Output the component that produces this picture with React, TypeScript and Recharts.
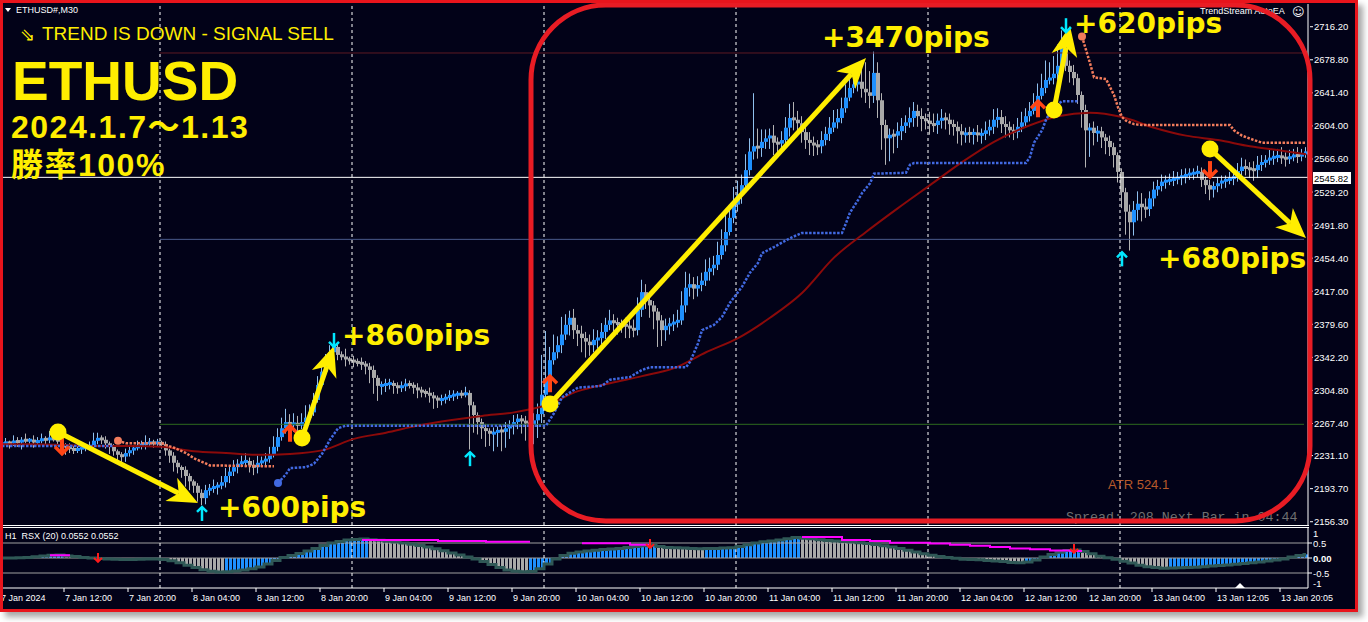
import React from 'react';
import { Bar, ComposedChart, Line, ReferenceDot, ReferenceLine, XAxis, YAxis } from 'recharts';

const YELLOW = '#ffee00';
const BG = '#020218';
const AXIS_FONT = '"Liberation Sans", Arial, sans-serif';

// ETHUSD M30 closes, one per bar from 7 Jan 04:00 (open = previous close)
const firstOpen = 2244;
const closes = [
  2245, 2246, 2245, 2248, 2246, 2249, 2248, 2249, 2246, 2248,
  2250, 2249, 2251, 2249, 2248, 2243, 2241, 2239, 2237, 2239,
  2240, 2240, 2242, 2248, 2251, 2249, 2245, 2241, 2236, 2232,
  2230, 2234, 2237, 2240, 2242, 2244, 2245, 2246, 2245, 2246,
  2244, 2237, 2231, 2223, 2218, 2215, 2208, 2202, 2197, 2189,
  2183, 2192, 2194, 2196, 2197, 2201, 2208, 2213, 2218, 2222,
  2224, 2225, 2220, 2218, 2223, 2225, 2227, 2232, 2241, 2252,
  2262, 2269, 2266, 2268, 2265, 2269, 2274, 2280, 2294, 2311,
  2326, 2337, 2348, 2354, 2345, 2343, 2340, 2339, 2337, 2336,
  2335, 2332, 2328, 2319, 2310, 2311, 2312, 2313, 2310, 2308,
  2310, 2312, 2311, 2308, 2305, 2303, 2302, 2299, 2296, 2294,
  2295, 2297, 2299, 2300, 2301, 2300, 2302, 2288, 2277, 2269,
  2262, 2259, 2256, 2257, 2260, 2258, 2262, 2265, 2269, 2273,
  2270, 2268, 2266, 2271, 2278, 2300, 2317, 2339, 2348, 2356,
  2368, 2379, 2387, 2373, 2369, 2364, 2360, 2356, 2362, 2364,
  2371, 2379, 2384, 2381, 2380, 2379, 2378, 2375, 2373, 2396,
  2416, 2407, 2401, 2394, 2384, 2373, 2378, 2380, 2382, 2384,
  2401, 2421, 2425, 2420, 2424, 2429, 2439, 2443, 2447, 2458,
  2469, 2484, 2500, 2515, 2526, 2537, 2554, 2575, 2581, 2579,
  2586, 2590, 2593, 2585, 2584, 2588, 2602, 2613, 2611, 2607,
  2597, 2588, 2585, 2582, 2581, 2588, 2595, 2602, 2608, 2613,
  2624, 2636, 2647, 2651, 2654, 2646, 2642, 2638, 2664, 2633,
  2605, 2590, 2594, 2593, 2598, 2604, 2608, 2613, 2621, 2615,
  2612, 2610, 2606, 2605, 2610, 2613, 2611, 2606, 2603, 2598,
  2594, 2596, 2595, 2596, 2594, 2595, 2599, 2603, 2611, 2614,
  2606, 2603, 2599, 2597, 2603, 2608, 2615, 2621, 2629, 2638,
  2647, 2656, 2658, 2663, 2672, 2692, 2672, 2665, 2658, 2639,
  2622, 2599, 2602, 2596, 2598, 2591, 2587, 2580, 2571, 2552,
  2529, 2507, 2495, 2509, 2516, 2512, 2510, 2522, 2532, 2536,
  2541, 2542, 2543, 2544, 2546, 2547, 2549, 2550, 2551, 2552,
  2543, 2537, 2532, 2536, 2539, 2542, 2543, 2544, 2547, 2553,
  2558, 2556, 2555, 2554, 2560, 2563, 2565, 2568, 2569, 2570,
  2568, 2567, 2569, 2571, 2570, 2572, 2575,
];

// wick above body top / below body bottom, in price units
const wickUp = [
  3, 5, 2, 6, 4, 3, 7, 2, 5, 4,
  6, 3, 8, 4, 3, 5, 2, 4, 3, 6,
  4, 3, 5, 9, 6, 3, 4, 2, 3, 2,
  3, 5, 4, 3, 6, 4, 9, 5, 3, 4,
  2, 3, 2, 4, 3, 2, 4, 3, 2, 3,
  4, 6, 5, 8, 4, 7, 9, 6, 8, 5,
  7, 9, 4, 6, 8, 5, 7, 9, 12, 10,
  12, 15, 9, 11, 8, 10, 14, 9, 8, 10,
  7, 9, 8, 6, 5, 4, 9, 3, 5, 4,
  6, 3, 4, 5, 3, 4, 6, 5, 3, 4,
  5, 6, 4, 3, 5, 4, 3, 6, 4, 3,
  5, 4, 6, 5, 3, 4, 7, 3, 4, 3,
  4, 5, 3, 6, 4, 5, 7, 6, 8, 5,
  4, 6, 5, 8, 12, 45, 55, 15, 20, 10,
  20, 12, 8, 10, 6, 9, 7, 8, 12, 9,
  10, 8, 12, 7, 6, 5, 8, 6, 10, 14,
  14, 9, 6, 5, 4, 6, 8, 7, 9, 12,
  16, 18, 12, 8, 10, 9, 14, 12, 10, 15,
  18, 22, 14, 20, 16, 12, 18, 15, 60, 20,
  14, 10, 8, 12, 6, 10, 12, 16, 18, 10,
  8, 6, 9, 7, 6, 10, 8, 12, 14, 10,
  12, 15, 18, 10, 14, 20, 30, 24, 24, 12,
  8, 6, 7, 6, 10, 9, 8, 12, 10, 7,
  9, 6, 10, 12, 8, 10, 6, 7, 5, 6,
  8, 6, 7, 5, 9, 6, 10, 8, 12, 10,
  8, 9, 6, 7, 10, 12, 9, 10, 12, 14,
  16, 22, 18, 20, 24, 20, 10, 6, 8, 5,
  4, 6, 5, 7, 6, 5, 4, 6, 5, 3,
  4, 5, 8, 10, 14, 12, 10, 8, 9, 7,
  8, 6, 7, 9, 6, 8, 7, 6, 5, 7,
  5, 4, 6, 5, 7, 6, 5, 8, 6, 9,
  10, 8, 7, 9, 10, 8, 6, 9, 7, 8,
  10, 6, 8, 7, 9, 6, 5,
];
const wickDn = [
  4, 2, 6, 3, 5, 8, 3, 4, 6, 2,
  3, 5, 4, 2, 6, 7, 9, 5, 4, 3,
  6, 4, 3, 2, 4, 5, 6, 8, 5, 7,
  9, 6, 4, 5, 3, 4, 6, 3, 5, 4,
  5, 6, 8, 10, 7, 9, 12, 10, 8, 10,
  8, 7, 6, 5, 9, 4, 6, 8, 5, 7,
  4, 6, 8, 9, 7, 5, 6, 4, 3, 5,
  4, 6, 5, 8, 6, 4, 3, 5, 4, 3,
  3, 4, 3, 5, 6, 4, 8, 5, 6, 4,
  7, 9, 15, 18, 17, 10, 8, 6, 9, 7,
  5, 6, 4, 7, 9, 6, 5, 8, 12, 9,
  6, 5, 4, 6, 5, 4, 3, 50, 20, 14,
  12, 18, 14, 20, 16, 22, 18, 12, 10, 8,
  14, 20, 24, 22, 20, 10, 6, 8, 5, 7,
  9, 6, 12, 10, 14, 16, 18, 12, 8, 10,
  7, 8, 6, 10, 12, 9, 14, 11, 8, 6,
  8, 10, 14, 20, 30, 18, 12, 10, 8, 6,
  5, 8, 10, 12, 9, 7, 6, 10, 8, 6,
  5, 7, 4, 6, 8, 10, 7, 6, 9, 12,
  10, 8, 12, 14, 10, 8, 6, 10, 12, 14,
  12, 10, 14, 12, 10, 8, 6, 8, 5, 7,
  6, 5, 4, 6, 8, 10, 12, 14, 8, 20,
  28, 30, 26, 20, 14, 10, 8, 6, 10, 12,
  14, 10, 12, 8, 10, 9, 11, 12, 10, 14,
  12, 9, 10, 12, 8, 10, 7, 6, 8, 9,
  10, 12, 8, 9, 7, 6, 5, 6, 4, 5,
  4, 6, 5, 7, 8, 10, 6, 12, 8, 10,
  20, 42, 30, 14, 10, 12, 15, 10, 14, 12,
  18, 26, 32, 15, 12, 16, 10, 8, 9, 7,
  6, 8, 5, 7, 6, 9, 8, 6, 7, 5,
  8, 10, 12, 9, 7, 6, 8, 5, 7, 6,
  5, 8, 10, 12, 9, 7, 6, 5, 8, 6,
  7, 9, 6, 5, 8, 6, 4,
];

// H1 RSX(20), one value per hour (= two M30 bars)
const rsxHourly = [
  0.0, 0.0, 0.01, 0.02, 0.04, 0.07, 0.09, 0.1, 0.07, 0.05,
  0.02, 0.0, -0.02, -0.03, -0.04, -0.05, -0.05, -0.04, -0.03, -0.03,
  -0.05, -0.09, -0.16, -0.24, -0.32, -0.39, -0.44, -0.47, -0.46, -0.43,
  -0.4, -0.36, -0.3, -0.2, -0.08, 0.02, 0.08, 0.15, 0.23, 0.32,
  0.42, 0.5, 0.55, 0.6, 0.62, 0.63, 0.61, 0.59, 0.56, 0.53,
  0.5, 0.46, 0.42, 0.37, 0.31, 0.24, 0.17, 0.1, 0.03, -0.03,
  -0.12, -0.22, -0.32, -0.4, -0.44, -0.46, -0.45, -0.36, -0.2, -0.03,
  0.08, 0.16, 0.2, 0.23, 0.26, 0.28, 0.3, 0.32, 0.35, 0.38,
  0.41, 0.43, 0.38, 0.35, 0.34, 0.33, 0.32, 0.31, 0.315, 0.32,
  0.33, 0.34, 0.38, 0.44, 0.5, 0.54, 0.57, 0.6, 0.64, 0.68,
  0.66, 0.64, 0.61, 0.58, 0.57, 0.55, 0.53, 0.51, 0.48, 0.45,
  0.41, 0.37, 0.32, 0.26, 0.2, 0.14, 0.09, 0.05, 0.02, -0.01,
  -0.04, -0.05, -0.06, -0.08, -0.1, -0.12, -0.15, -0.16, -0.13, -0.07,
  0.03, 0.12, 0.19, 0.25, 0.27, 0.22, 0.14, 0.06, 0.01, -0.04,
  -0.11, -0.17, -0.24, -0.29, -0.32, -0.34, -0.33, -0.325, -0.32, -0.31,
  -0.29, -0.27, -0.25, -0.23, -0.21, -0.18, -0.16, -0.13, -0.1, -0.07,
  -0.03, 0.03, 0.08, 0.12,
];

// RSX signal line (magenta): [fromBar, toBar, level]
const rsxSignalRuns: [number, number, number][] = [
  [12, 17, 0.09], [90, 108, 0.6], [109, 120, 0.57], [121, 132, 0.54],
  [145, 156, 0.49], [157, 162, 0.44], [200, 209, 0.7], [210, 216, 0.6],
  [217, 221, 0.57], [222, 231, 0.51], [232, 236, 0.48], [237, 241, 0.44],
  [242, 246, 0.41], [247, 251, 0.37], [252, 256, 0.32], [257, 261, 0.29],
  [262, 266, 0.25], [267, 270, 0.23],
];

// maroon moving average, read every 8 bars
const maPoints: [number, number][] = [
  [0, 2244], [8, 2244], [16, 2243], [24, 2242], [32, 2242], [40, 2241],
  [48, 2236], [56, 2234], [64, 2232], [72, 2233], [80, 2237], [88, 2250],
  [96, 2257], [104, 2265], [112, 2271], [120, 2276], [128, 2280], [136, 2288],
  [144, 2304], [152, 2313], [160, 2321], [168, 2330], [176, 2348], [184, 2364],
  [192, 2387], [200, 2415], [208, 2455], [216, 2484], [224, 2511], [232, 2537],
  [240, 2563], [248, 2586], [256, 2603], [264, 2615], [272, 2619], [280, 2614],
  [288, 2602], [296, 2593], [304, 2588], [312, 2581], [320, 2576], [326, 2572],
];

// trailing stops: blue below price in uptrend, salmon above price in downtrend
const blueStopA: [number, number][] = [[0, 2242], [28, 2242]];
const blueStopB: [number, number][] = [
  [69, 2200], [71, 2210], [72, 2217], [76, 2218], [78, 2222], [80, 2233],
  [82, 2249], [84, 2262], [86, 2265], [136, 2265], [138, 2279], [140, 2297],
  [144, 2308], [150, 2310], [152, 2317], [157, 2320], [160, 2328], [162, 2331],
  [171, 2331], [172, 2337], [174, 2358], [175, 2373], [178, 2379], [180, 2388],
  [182, 2404], [185, 2422], [187, 2438], [189, 2449], [190, 2460], [193, 2467],
  [197, 2477], [200, 2483], [210, 2483], [211, 2494], [212, 2506], [214, 2520],
  [215, 2528], [217, 2539], [218, 2550], [226, 2551], [227, 2560], [228, 2562],
  [256, 2562], [257, 2569], [258, 2585], [260, 2599], [261, 2611], [262, 2619],
  [263, 2625], [265, 2632], [269, 2632],
];
const salmonStopA: [number, number][] = [
  [29, 2248], [31, 2245], [40, 2245], [41, 2243], [43, 2240], [46, 2234],
  [48, 2228], [50, 2224], [52, 2220], [68, 2219],
];
const salmonStopB: [number, number][] = [
  [270, 2705], [271, 2690], [272, 2675], [273, 2659], [276, 2657], [277, 2648],
  [278, 2639], [279, 2625], [280, 2614], [281, 2610], [283, 2606], [285, 2605],
  [307, 2605], [308, 2599], [310, 2593], [313, 2588], [315, 2585], [326, 2585],
];

const priceTicks = [
  2716.2, 2678.8, 2641.4, 2604.0, 2566.6, 2529.2, 2491.8, 2454.4,
  2417.0, 2379.6, 2342.2, 2304.8, 2267.4, 2231.1, 2193.7, 2156.3,
];
const rsxTicks = [1, 0.5, 0, -0.5, -1];
const timeTicks: [number, string][] = [
  [0, '7 Jan 2024'], [16, '7 Jan 12:00'], [32, '7 Jan 20:00'], [48, '8 Jan 04:00'],
  [64, '8 Jan 12:00'], [80, '8 Jan 20:00'], [96, '9 Jan 04:00'], [112, '9 Jan 12:00'],
  [128, '9 Jan 20:00'], [144, '10 Jan 04:00'], [160, '10 Jan 12:00'], [176, '10 Jan 20:00'],
  [192, '11 Jan 04:00'], [208, '11 Jan 12:00'], [224, '11 Jan 20:00'], [240, '12 Jan 04:00'],
  [256, '12 Jan 12:00'], [272, '12 Jan 20:00'], [288, '13 Jan 04:00'], [304, '13 Jan 12:05'],
  [320, '13 Jan 20:05'],
];
const dayStarts = [40, 88, 136, 184, 232, 280];

const bidPrice = 2545.82;
const upperLevel = 2686.5;
const midLevel = 2475.7;
const lowerLevel = 2266.5;

const signals: { k: number; price: number; kind: string }[] = [
  { k: 50, price: 2173, kind: 'cyanUp' },
  { k: 117, price: 2235, kind: 'cyanUp' },
  { k: 280, price: 2461, kind: 'cyanUp' },
  { k: 83, price: 2354, kind: 'cyanDown' },
  { k: 266, price: 2710, kind: 'cyanDown' },
  { k: 72, price: 2266, kind: 'redUp' },
  { k: 137, price: 2322, kind: 'redUp' },
  { k: 259, price: 2633, kind: 'redUp' },
  { k: 15, price: 2232, kind: 'redDown' },
  { k: 302, price: 2545, kind: 'redDown' },
];
const rsxArrows: [number, number][] = [[24, -0.13], [162, 0.33], [268, 0.17]];

const trades = [
  { from: [14, 2257.8], to: [49, 2177.5] },
  { from: [75, 2251.0], to: [83, 2355.0] },
  { from: [137, 2289.4], to: [216, 2680.8] },
  { from: [263, 2622.0], to: [267, 2717.0] },
  { from: [302, 2577.9], to: [326, 2477.2] },
];
const pipLabels = [
  { k: 54, price: 2161.6, text: '+600pips' },
  { k: 85, price: 2356.2, text: '+860pips' },
  { k: 205, price: 2693.2, text: '+3470pips' },
  { k: 268, price: 2709.1, text: '+620pips' },
  { k: 289, price: 2443.3, text: '+680pips' },
];

const PRICE_DOMAIN = [2152.6, 2741.9];

const rows: any[] = closes.map((close, i) => {
  const open = i === 0 ? firstOpen : closes[i - 1];
  const hi = Math.max(open, close) + wickUp[i];
  const lo = Math.min(open, close) - wickDn[i];
  const h = Math.floor(i / 2);
  const rsx = rsxHourly[h];
  const rsxUp = h > 0 && rsx > rsxHourly[h - 1];
  return { i, open, close, hi, lo, range: [lo, hi], rsx, rsxUp };
});
const place = (pts: [number, number][], key: string) =>
  pts.forEach(([k, v]) => { rows[k][key] = v; });
place(maPoints, 'ma');
place(blueStopA, 'blueA');
place(blueStopB, 'blueB');
place(salmonStopA, 'salA');
place(salmonStopB, 'salB');
rsxSignalRuns.forEach(([a, b, v]) => {
  for (let k = a; k <= b; k++) rows[k].sig = v;
});
const timeLabel = new Map(timeTicks);

const Candle = (props: any) => {
  const { x, y, height, payload } = props;
  const { open, close, hi, lo } = payload;
  const span = hi - lo || 1;
  const toY = (v: number) => y + ((hi - v) / span) * height;
  const up = close >= open;
  let top = toY(Math.max(open, close));
  let bot = toY(Math.min(open, close));
  if (bot - top < 3) {
    const mid = (top + bot) / 2;
    top = mid - 1.5;
    bot = mid + 1.5;
  }
  const bx = Math.round(x);
  return (
    <g>
      <rect x={bx + 1} y={y} width={1} height={Math.max(1, height)} fill={up ? '#8fc0ee' : '#b4b4b4'} />
      <rect x={bx} y={top} width={4} height={bot - top} fill={up ? '#1e90ff' : '#a9a9a9'} />
    </g>
  );
};

const RsxBar = (props: any) => {
  const { x, y, height, payload } = props;
  const top = Math.min(y, y + height);
  return <rect x={Math.floor(x)} y={top} width={3} height={Math.abs(height)} fill={payload.rsxUp ? '#1e90ff' : '#a9a9a9'} />;
};

const PriceTick = (props: any) => {
  const { x, y, payload } = props;
  return (
    <g>
      <line x1={x + 2} x2={x + 5} y1={y} y2={y} stroke="#fff" />
      <text x={x + 6} y={y + 3.5} fill="#fff" fontSize={9.5} fontFamily={AXIS_FONT}>
        {Number(payload.value).toFixed(2)}
      </text>
    </g>
  );
};

const RsxTick = (props: any) => {
  const { x, y, payload } = props;
  const v = payload.value;
  const label = v === 0 ? '0.00' : String(v);
  const dy = v === 1 ? 5 : v === -1 ? -5 : 0;
  return (
    <g>
      {Math.abs(v) < 1 && <line x1={x} x2={x + 4} y1={y} y2={y} stroke="#fff" />}
      <text x={x + 5} y={y + dy + 3.5} fill="#fff" fontSize={9.5} fontWeight={v === 0 ? 'bold' : 'normal'} fontFamily={AXIS_FONT}>
        {label}
      </text>
    </g>
  );
};

const TimeTick = (props: any) => {
  const { x, y, payload } = props;
  return (
    <g>
      <line x1={x - 2} x2={x - 2} y1={y} y2={y + 4} stroke="#fff" />
      <text x={x - 1} y={y + 13} fill="#fff" fontSize={9} fontFamily={AXIS_FONT}>
        {timeLabel.get(payload.value)}
      </text>
    </g>
  );
};

const SignalArrow = ({ cx, cy, kind }: { cx: number; cy: number; kind: string }) => {
  if (kind === 'cyanUp' || kind === 'cyanDown') {
    const d = kind === 'cyanUp' ? 1 : -1;
    return (
      <g stroke="#00e8ff" strokeWidth={2.5} fill="none">
        <line x1={cx} y1={cy} x2={cx} y2={cy + d * 14} />
        <polyline points={`${cx - 5},${cy + d * 5} ${cx},${cy} ${cx + 5},${cy + d * 5}`} />
      </g>
    );
  }
  const d = kind === 'redUp' ? 1 : -1;
  return (
    <g stroke="#ff4515" fill="none">
      <line x1={cx} y1={cy + d * 2} x2={cx} y2={cy + d * 17} strokeWidth={4} />
      <polyline points={`${cx - 7},${cy + d * 8} ${cx},${cy + d * 1} ${cx + 7},${cy + d * 8}`} strokeWidth={3.5} />
    </g>
  );
};

const TradeArrow = (props: any) => {
  const { x1, y1, x2, y2 } = props;
  const dx = x2 - x1;
  const dy = y2 - y1;
  const len = Math.hypot(dx, dy) || 1;
  const ux = dx / len;
  const uy = dy / len;
  const head = 30;
  const half = 13;
  const bx = x2 - ux * head;
  const by = y2 - uy * head;
  const nx = x2 - ux * head * 0.72;
  const ny = y2 - uy * head * 0.72;
  return (
    <g>
      <line x1={x1} y1={y1} x2={nx} y2={ny} stroke={YELLOW} strokeWidth={5} />
      <polygon
        points={`${x2},${y2} ${bx - uy * half},${by + ux * half} ${nx},${ny} ${bx + uy * half},${by - ux * half}`}
        fill={YELLOW}
      />
    </g>
  );
};

const App = () => {
  return (
    <div style={{ position: 'relative', width: 1368, height: 622, background: '#fff', overflow: 'hidden' }}>
      <style>{'body{margin:0}'}</style>
      <div
        style={{
          position: 'absolute', left: 0, top: 0, width: 1358, height: 612, background: BG,
          boxShadow: '5px 5px 6px rgba(0,0,0,0.35)',
        }}
      />

      {/* price panel */}
      <div style={{ position: 'absolute', left: 0, top: 0 }}>
        <ComposedChart width={1360} height={529} data={rows} margin={{ top: 4, right: 0, bottom: 4, left: 0 }} barCategoryGap={0} barGap={0}>
          <XAxis dataKey="i" type="category" scale="band" hide />
          <YAxis
            orientation="right" width={52} type="number" domain={PRICE_DOMAIN} allowDataOverflow
            ticks={priceTicks} interval={0} tickSize={0} tickMargin={0}
            axisLine={{ stroke: '#fff' }} tickLine={false} tick={<PriceTick />}
          />
          <ReferenceLine y={bidPrice} stroke="#ffffff" />
          <ReferenceLine segment={[{ x: 40, y: upperLevel }, { x: 326, y: upperLevel }]} position="start" stroke="#5e1a22" />
          <ReferenceLine segment={[{ x: 40, y: midLevel }, { x: 326, y: midLevel }]} position="start" stroke="#4a5a8c" />
          <ReferenceLine segment={[{ x: 40, y: lowerLevel }, { x: 326, y: lowerLevel }]} position="start" stroke="#2e6b1e" />
          {dayStarts.map((k) => (
            <ReferenceLine key={k} x={k} position="start" stroke="#ffffff" strokeDasharray="3 3" />
          ))}
          <Bar dataKey="range" shape={<Candle />} isAnimationActive={false} />
          <Line dataKey="ma" type="monotone" stroke="#8b0a0a" strokeWidth={2} dot={false} connectNulls isAnimationActive={false} />
          <Line dataKey="blueA" stroke="#4169e1" strokeWidth={2.5} strokeDasharray="2.5 1.5" dot={false} connectNulls isAnimationActive={false} />
          <Line dataKey="blueB" stroke="#4169e1" strokeWidth={2.5} strokeDasharray="2.5 1.5" dot={false} connectNulls isAnimationActive={false} />
          <Line dataKey="salA" stroke="#f27c5c" strokeWidth={2.5} strokeDasharray="2.5 1.5" dot={false} connectNulls isAnimationActive={false} />
          <Line dataKey="salB" stroke="#f27c5c" strokeWidth={2.5} strokeDasharray="2.5 1.5" dot={false} connectNulls isAnimationActive={false} />
        </ComposedChart>
      </div>

      {/* RSX panel */}
      <div style={{ position: 'absolute', left: 0, top: 528 }}>
        <ComposedChart width={1360} height={82} data={rows} margin={{ top: 0, right: 0, bottom: 0, left: 0 }} barCategoryGap={0} barGap={0}>
          <XAxis
            dataKey="i" type="category" scale="band" height={22} ticks={timeTicks.map((t) => t[0])} interval={0}
            tickSize={0} tickMargin={0} axisLine={{ stroke: '#fff' }} tickLine={false} tick={<TimeTick />}
          />
          <YAxis
            orientation="right" width={52} type="number" domain={[-1, 1]} allowDataOverflow ticks={rsxTicks}
            interval={0} tickSize={0} tickMargin={0} axisLine={{ stroke: '#fff' }} tickLine={false} tick={<RsxTick />}
          />
          {[0.5, 0, -0.5].map((v) => (
            <ReferenceLine key={v} y={v} stroke="#a0a0a0" />
          ))}
          {dayStarts.map((k) => (
            <ReferenceLine key={k} x={k} position="start" stroke="#ffffff" strokeDasharray="3 3" />
          ))}
          <Bar dataKey="rsx" barSize={3} shape={<RsxBar />} isAnimationActive={false} />
          <Line dataKey="rsx" type="step" stroke="#2f5856" strokeWidth={3} dot={false} isAnimationActive={false} />
          <Line dataKey="sig" type="stepAfter" stroke="#ff00ff" strokeWidth={2} dot={false} isAnimationActive={false} />
          {rsxArrows.map(([k, v]) => (
            <ReferenceDot
              key={k} x={k} y={v} r={1}
              shape={(p: any) => (
                <g stroke="#ff1a1a" strokeWidth={2} fill="none">
                  <line x1={p.cx} y1={p.cy} x2={p.cx} y2={p.cy - 9} />
                  <polyline points={`${p.cx - 4},${p.cy - 4} ${p.cx},${p.cy} ${p.cx + 4},${p.cy - 4}`} />
                </g>
              )}
            />
          ))}
        </ComposedChart>
      </div>

      {/* separators between the panels */}
      <div style={{ position: 'absolute', left: 0, top: 525, width: 1309, height: 1, background: '#fff' }} />
      <div style={{ position: 'absolute', left: 0, top: 527, width: 1309, height: 1, background: '#fff' }} />

      {/* signals and trade annotations drawn on the price scale */}
      <div style={{ position: 'absolute', left: 0, top: 0 }}>
        <ComposedChart width={1360} height={529} data={rows} margin={{ top: 4, right: 52, bottom: 4, left: 0 }}>
          <XAxis dataKey="i" type="category" scale="band" hide />
          <YAxis type="number" domain={PRICE_DOMAIN} allowDataOverflow hide />
          <Line dataKey="close" stroke="none" dot={false} isAnimationActive={false} />
          <ReferenceDot x={69} y={2200} r={4} fill="#4169e1" stroke="none" />
          <ReferenceDot x={29} y={2248} r={4} fill="#f27c5c" stroke="none" />
          <ReferenceDot x={270} y={2705} r={4} fill="#f27c5c" stroke="none" />
          {signals.map((s) => (
            <ReferenceDot
              key={`${s.kind}-${s.k}`} x={s.k} y={s.price} r={1}
              shape={(p: any) => <SignalArrow cx={p.cx} cy={p.cy} kind={s.kind} />}
            />
          ))}
          {trades.map((t, n) => (
            <ReferenceLine
              key={`tl-${n}`}
              segment={[{ x: t.from[0], y: t.from[1] }, { x: t.to[0], y: t.to[1] }]}
              shape={<TradeArrow />}
            />
          ))}
          {trades.map((t, n) => (
            <ReferenceDot key={`tc-${n}`} x={t.from[0]} y={t.from[1]} r={8.5} fill={YELLOW} stroke="none" />
          ))}
          {pipLabels.map((l) => (
            <ReferenceDot
              key={l.text} x={l.k} y={l.price} r={1}
              shape={(p: any) => (
                <text x={p.cx} y={p.cy} fill={YELLOW} fontSize={28} fontWeight="bold" fontFamily='"DejaVu Sans", Verdana, sans-serif'>
                  {l.text}
                </text>
              )}
            />
          ))}
        </ComposedChart>
      </div>

      {/* fixed labels of the terminal window */}
      <svg width={1368} height={622} style={{ position: 'absolute', left: 0, top: 0, pointerEvents: 'none' }}>
        <polygon points="5,8 11,8 8,12" fill="#fff" />
        <text x={16} y={13} fill="#fff" fontSize={9} fontFamily={AXIS_FONT}>ETHUSD#,M30</text>
        <text x={20} y={41} fill={YELLOW} fontSize={18} fontFamily='"DejaVu Sans", sans-serif'>⇘</text>
        <text x={42} y={40} fill={YELLOW} fontSize={19} fontFamily={AXIS_FONT}>TREND IS DOWN - SIGNAL SELL</text>
        <text x={12} y={100} fill={YELLOW} fontSize={55} fontWeight="bold" fontFamily={AXIS_FONT}>ETHUSD</text>
        <text x={11} y={138} fill={YELLOW} fontSize={32} fontWeight="bold" letterSpacing={1.5} fontFamily='"Liberation Sans", "Noto Sans CJK JP", sans-serif'>
          2024.1.7～1.13
        </text>
        <text x={11} y={176} fill={YELLOW} fontSize={32} fontWeight="bold" letterSpacing={1.5} fontFamily='"Liberation Sans", "Noto Sans CJK JP", sans-serif'>
          勝率100%
        </text>
        <text x={1200} y={14} fill="#fff" fontSize={9} fontFamily={AXIS_FONT}>TrendStream AutoEA</text>
        <text x={1292} y={16} fill="#fff" fontSize={12} fontFamily='"DejaVu Sans", sans-serif'>☺</text>
        <text x={5} y={539} fill="#fff" fontSize={9} fontFamily={AXIS_FONT} style={{ whiteSpace: 'pre' }}>H1  RSX (20) 0.0552 0.0552</text>
        <text x={1108} y={489} fill="#b85a2a" fontSize={13} fontFamily={AXIS_FONT}>ATR 524.1</text>
        <text x={1066} y={521} fill="#707070" fontSize={13.3} fontFamily='"Liberation Mono", monospace'>Spread: 208 Next Bar in 04:44</text>
        <rect x={1313} y={172} width={38} height={12} fill="#fff" />
        <text x={1314} y={181.5} fill="#000" fontSize={9.5} fontFamily={AXIS_FONT}>{bidPrice.toFixed(2)}</text>
        <polygon points="1235,588 1245,588 1240,583" fill="#fff" />
        <rect x={531} y={5} width={779} height={516} rx={75} ry={75} fill="none" stroke="#e81c24" strokeWidth={5} />
      </svg>

      <div
        style={{
          position: 'absolute', left: 0, top: 0, width: 1358, height: 612, boxSizing: 'border-box',
          border: '3px solid #e8141c', pointerEvents: 'none',
        }}
      />
    </div>
  );
};

export default App;
